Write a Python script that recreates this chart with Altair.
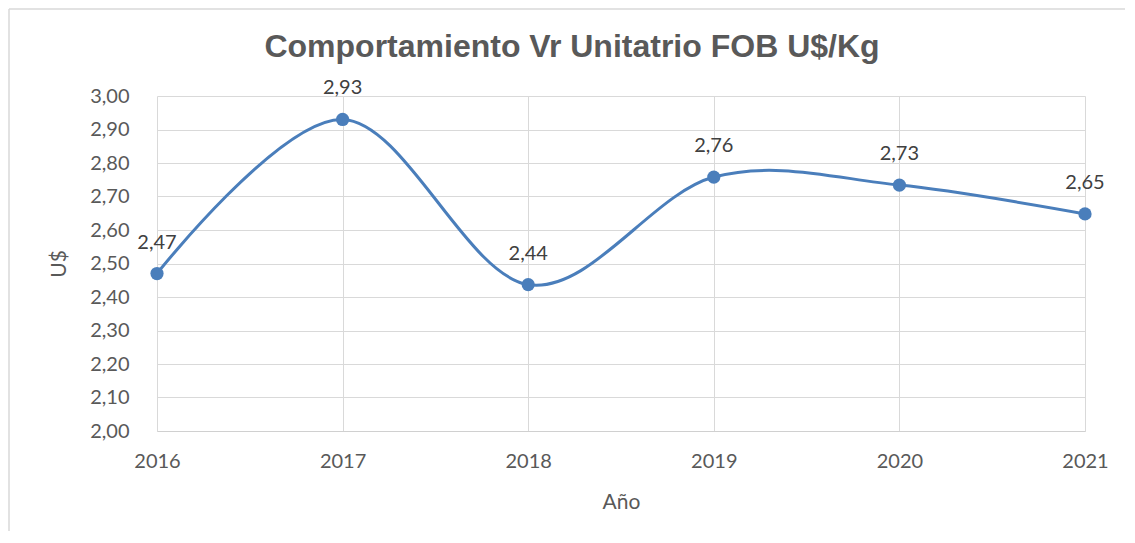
import altair as alt
import pandas as pd

years = [2016, 2017, 2018, 2019, 2020, 2021]
values = [2.47, 2.93, 2.437, 2.758, 2.734, 2.648]
labels = ["2,47", "2,93", "2,44", "2,76", "2,73", "2,65"]
title_text = "Comportamiento Vr Unitatrio FOB U$/Kg"

df = pd.DataFrame({"year": years, "value": values, "label": labels})

W, H = 928, 335
PL, PT = 149, 88
TXT = "#595959"
BLUE = "#4a7ebb"
FONT = "Lato"

x = alt.X("year:Q", scale=alt.Scale(domain=[2016, 2021], nice=False, zero=False),
          axis=alt.Axis(values=years, format="d", title="Año", grid=True, ticks=False,
                        domain=True, domainColor="#d0d0d0", labelPadding=20,
                        titlePadding=20, labelFont=FONT, labelFontSize=20,
                        labelColor=TXT, titleFont=FONT, titleFontSize=21,
                        titleFontWeight="normal", titleColor=TXT,
                        gridColor="#d9d9d9", labelFlush=False))
y = alt.Y("value:Q", scale=alt.Scale(domain=[2.0, 3.0], nice=False, zero=False),
          axis=alt.Axis(values=[2.0 + i * 0.1 for i in range(11)],
                        labelExpr="replace(format(datum.value, '.2f'), '.', ',')",
                        title="U$", grid=True, ticks=False, domain=False,
                        labelPadding=28, titlePadding=20, labelFont=FONT,
                        labelFontSize=20, labelColor=TXT, titleFont=FONT,
                        titleFontSize=21, titleFontWeight="normal", titleColor=TXT,
                        gridColor="#d9d9d9"))

base = alt.Chart(df)
line = base.mark_line(interpolate="cardinal", color=BLUE, strokeWidth=3).encode(x=x, y=y)
pts = base.mark_circle(color=BLUE, size=175, opacity=1).encode(x=x, y=y)
txt = base.mark_text(font=FONT, fontSize=20, color="#404040", dy=-31,
                     baseline="middle").encode(x=x, y=y, text="label:N")

title = alt.Chart(pd.DataFrame({"t": [title_text]})).mark_text(
    font="Liberation Sans", fontSize=32, fontWeight="bold", color=TXT,
    baseline="alphabetic", align="center"
).encode(x=alt.value(415), y=alt.value(-39), text="t:N")

one = pd.DataFrame({"a": [0]})
border_left = alt.Chart(one).mark_rule(color="#d9d9d9", strokeWidth=1.5).encode(
    x=alt.value(-148), y=alt.value(-87), y2=alt.value(520))
border_top = alt.Chart(one).mark_rule(color="#d9d9d9", strokeWidth=1.5).encode(
    x=alt.value(-148), x2=alt.value(1000), y=alt.value(-87))

chart = alt.layer(border_left, border_top, line, pts, txt, title).properties(
    width=W, height=H,
    padding={"left": PL, "top": PT, "right": 40, "bottom": 100},
    autosize=alt.AutoSizeParams(type="none"),
).configure_view(stroke=None)

chart.save("out.html", embed_options={"renderer": "svg", "actions": False})
